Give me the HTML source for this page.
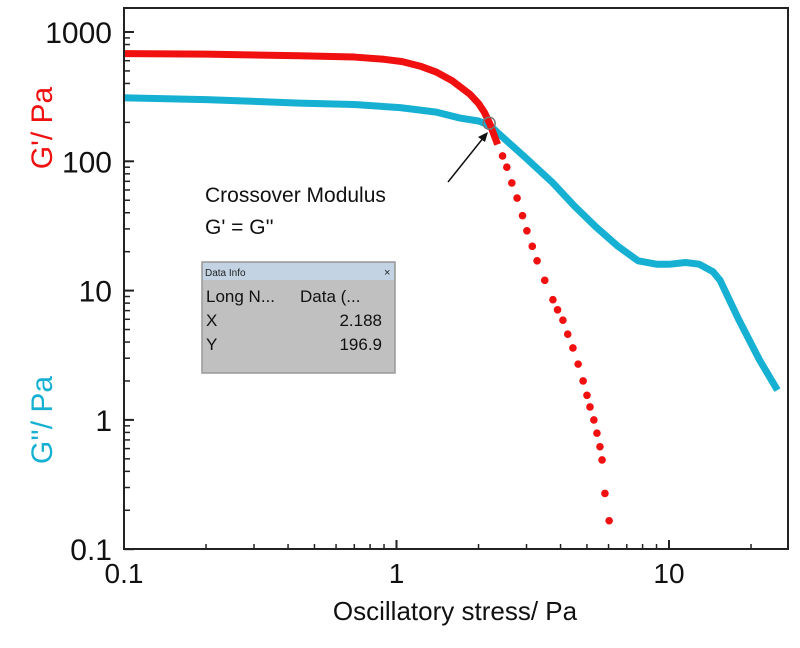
<!DOCTYPE html>
<html><head><meta charset="utf-8"><style>
body{margin:0;background:#fff;width:800px;height:643px;overflow:hidden;font-family:"Liberation Sans",Arial,sans-serif}
svg text{font-family:"Liberation Sans",Arial,sans-serif}
</style></head><body>
<svg id="c" width="800" height="643"></svg>
<script>
const xTicks=[0.1,1,10];
const xTickLabels=["0.1","1","10"];
const yTicks=[0.1,1,10,100,1000];
const yTickLabels=["0.1","1","10","100","1000"];
const redLineX=[0.1,0.2,0.44,0.7,0.9,1.05,1.22,1.4,1.6,1.86,2.0,2.1,2.2,2.35];
const redLineY=[680,675,655,640,615,590,545,490,420,330,280,240,195,135];
const redDotX=[2.45,2.54,2.65,2.77,2.9,3.01,3.15,3.28,3.5,3.75,3.9,4.08,4.25,4.44,4.64,4.84,5.0,5.13,5.3,5.44,5.58,5.68,5.82,6.03];
const redDotY=[110,90,68,52,38,29,22,17,12,8.5,7.1,5.9,4.6,3.6,2.7,2.0,1.55,1.26,1.0,0.79,0.62,0.49,0.27,0.166];
const cyanX=[0.1,0.2,0.44,0.7,1.03,1.4,1.71,2.0,2.2,2.4,3.0,3.75,4.5,5.4,6.5,7.7,9.0,10.1,11.5,12.9,14.5,15.4,18,21.5,25];
const cyanY=[310,300,282,275,260,240,216,205,190,160,105,68,45,31,22,17,16,16,16.5,16,14,12,6,2.9,1.7];
const L=124,R=788,T=8,B=549;
const X=v=>L+(Math.log10(v)+1)*272.5;
const Y=v=>32+(3-Math.log10(v))*129.3;
const svg=document.getElementById('c');
const NS='http://www.w3.org/2000/svg';
function mk(t,a,p){const e=document.createElementNS(NS,t);for(const k in a)e.setAttribute(k,a[k]);(p||svg).appendChild(e);return e;}
let e;
for(let d=-1;d<=1;d++)for(let m=2;m<=9;m++){const v=m*Math.pow(10,d);if(X(v)>R)continue;
e=mk('line',{x1:X(v),x2:X(v),y1:B,y2:B-5,stroke:'#222','stroke-width':1.5});
}
for(let d=-1;d<=2;d++)for(let m=2;m<=9;m++){const v=m*Math.pow(10,d);if(Y(v)<T)continue;
e=mk('line',{x1:L,x2:L+6,y1:Y(v),y2:Y(v),stroke:'#222','stroke-width':1.5});
}
xTicks.forEach((v,i)=>{e=mk('line',{x1:X(v),x2:X(v),y1:B,y2:B-9,stroke:'#222','stroke-width':2});

e=mk('text',{x:X(v),y:583,'font-size':28,'text-anchor':'middle',fill:'#111'});e.textContent=xTickLabels[i];
});
yTicks.forEach((v,i)=>{e=mk('line',{x1:L,x2:L+10,y1:Y(v),y2:Y(v),stroke:'#222','stroke-width':2});

e=mk('text',{x:112,y:Y(v)+11,'font-size':30,'text-anchor':'end',fill:'#111'});e.textContent=yTickLabels[i];
});
e=mk('polyline',{points:cyanX.map((v,i)=>X(v)+','+Y(cyanY[i])).join(' '),fill:'none',stroke:'#16b0d2','stroke-width':7,'stroke-linejoin':'round'});

e=mk('polyline',{points:redLineX.map((v,i)=>X(v)+','+Y(redLineY[i])).join(' '),fill:'none',stroke:'#f01010','stroke-width':7,'stroke-linejoin':'round'});

redDotX.forEach((v,i)=>{e=mk('circle',{cx:X(v),cy:Y(redDotY[i]),r:3.8,fill:'#f01010'});
});
e=mk('rect',{x:L,y:T,width:R-L,height:B-T,fill:'none',stroke:'#222','stroke-width':2});

e=mk('circle',{cx:X(2.188),cy:Y(196.9),r:6,fill:'none',stroke:'#777','stroke-width':1.5});

e=mk('line',{x1:448,y1:182,x2:484,y2:137,stroke:'#111','stroke-width':1.5});

mk('polygon',{points:'488,132 478,137 485,142',fill:'#111'});
e=mk('text',{x:205,y:202,'font-size':21,fill:'#111'});e.textContent='Crossover Modulus';

e=mk('text',{x:205,y:234,'font-size':21,fill:'#111'});e.textContent="G' = G''";

e=mk('text',{x:0,y:0,'font-size':30,fill:'#f01010','text-anchor':'middle',transform:'translate(52,128) rotate(-90)'});e.textContent="G'/ Pa";

e=mk('text',{x:0,y:0,'font-size':30,fill:'#16b0d2','text-anchor':'middle',transform:'translate(52,420) rotate(-90)'});e.textContent="G''/ Pa";

e=mk('text',{x:455,y:620,'font-size':26,fill:'#111','text-anchor':'middle'});e.textContent='Oscillatory stress/ Pa';

const g=mk('g',{});
mk('rect',{x:202,y:262,width:193,height:111,fill:'#c0c0c0',stroke:'#999','stroke-width':1.5},g);
mk('rect',{x:203,y:263,width:191,height:17,fill:'#c3d3e3'},g);
let t=mk('text',{x:205,y:276,'font-size':10,fill:'#222'},g);t.textContent='Data Info';
t=mk('text',{x:384,y:276,'font-size':11,fill:'#222'},g);t.textContent='×';

[['Long N...','Data (...',300],['X','2.188',382],['Y','196.9',382]].forEach((r,i)=>{
let a=mk('text',{x:206,y:302+i*24,'font-size':17,fill:'#111'},g);a.textContent=r[0];
let b=mk('text',{x:r[2],y:302+i*24,'font-size':17,fill:'#111','text-anchor':i?'end':'start'},g);b.textContent=r[1];});
</script>
</body></html>
